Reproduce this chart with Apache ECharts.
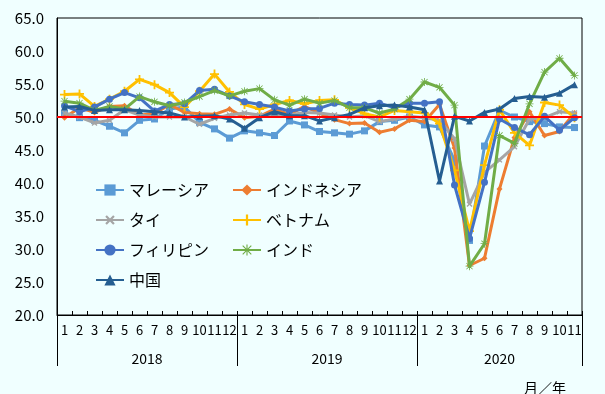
<!DOCTYPE html>
<html><head><meta charset="utf-8">
<script src="https://cdn.jsdelivr.net/npm/echarts@6/dist/echarts.min.js"></script>
<style>html,body{margin:0;padding:0;background:#F0FFFF}#c{width:605px;height:394px}</style>
</head><body><div id="c"></div>
<script>
const months = ['1','2','3','4','5','6','7','8','9','10','11','12',
                '1','2','3','4','5','6','7','8','9','10','11','12',
                '1','2','3','4','5','6','7','8','9','10','11'];
const years = ['2018','2019','2020'];
const yearMonthCounts = [12,12,11];
const yTicks = [20,25,30,35,40,45,50,55,60,65];

const malaysia    = [50.5,49.9,49.5,48.6,47.6,49.5,49.7,51.2,51.5,49.2,48.2,46.8, 47.9,47.6,47.2,49.4,48.8,47.8,47.6,47.4,47.9,49.3,49.5,50.0, 48.8,48.5,43.4,31.3,45.6,51.0,50.0,49.3,49.0,48.5,48.4];
const indonesia   = [49.9,51.4,50.7,51.6,51.7,50.3,50.5,51.9,50.7,50.5,50.4,51.2, 49.9,50.1,51.2,50.4,51.6,50.6,49.6,49.0,49.1,47.7,48.2,49.5, 49.3,51.9,45.3,27.5,28.6,39.1,46.9,50.8,47.2,47.8,50.6];
const thailand    = [50.6,50.0,49.1,49.5,51.1,50.3,50.0,50.0,50.0,48.9,49.8,50.3, 50.6,50.3,50.3,50.3,50.7,50.6,50.3,50.0,50.2,49.3,49.7,50.1, 49.9,49.5,46.7,36.8,41.6,43.5,45.5,49.7,49.9,50.8,50.6];
const vietnam     = [53.4,53.5,51.6,52.7,53.9,55.7,54.9,53.7,51.5,53.9,56.5,53.8, 51.9,51.2,51.9,52.5,52.0,52.5,52.6,51.4,50.5,50.0,51.0,50.8, 50.6,49.0,41.9,32.7,42.7,51.1,47.6,45.7,52.2,51.8,49.9];
const philippines = [51.7,50.8,51.5,52.7,53.7,52.9,50.9,51.9,52.0,54.0,54.2,53.2, 52.3,51.9,51.5,50.9,51.2,51.3,52.1,51.9,51.8,52.1,51.4,52.1, 52.1,52.3,39.7,31.6,40.1,49.7,48.4,47.3,50.1,48.0,49.9];
const india       = [52.4,52.1,51.0,51.6,51.2,53.1,52.3,51.7,52.2,53.1,54.0,53.2, 53.9,54.3,52.6,51.8,52.7,52.1,52.5,51.4,51.4,50.6,51.2,52.7, 55.3,54.5,51.8,27.4,30.8,47.2,46.0,52.0,56.8,58.9,56.3];
const china       = [51.5,51.6,51.0,51.1,51.1,51.0,50.8,50.6,50.0,50.1,50.2,49.7, 48.3,49.9,50.8,50.2,50.2,49.4,49.9,50.4,51.4,51.7,51.8,51.5, 51.1,40.3,50.1,49.4,50.7,51.2,52.8,53.1,53.0,53.6,54.9];
const threshold = 50;

const names = ['マレーシア','インドネシア','タイ','ベトナム','フィリピン','インド','中国'];
const values = [malaysia, indonesia, thailand, vietnam, philippines, india, china];
const colors = ['#5B9BD5','#ED7D31','#A5A5A5','#FFC000','#4472C4','#70AD47','#255E91'];
const plusPath = 'path://M4,0H6V4H10V6H6V10H4V6H0V4H4Z';
const starPath = 'path://M4.5,0H5.5V4.5H10V5.5H5.5V10H4.5V5.5H0V4.5H4.5Z M1.5,0.8L9.2,8.5L8.5,9.2L0.8,1.5Z M8.5,0.8L9.2,1.5L1.5,9.2L0.8,8.5Z';
const symbols = [
  {symbol:'rect', size:7, rotate:0},
  {symbol:'diamond', size:6, rotate:0},
  {symbol:plusPath, size:7, rotate:45},
  {symbol:plusPath, size:9, rotate:0},
  {symbol:'circle', size:7, rotate:0},
  {symbol:starPath, size:8, rotate:0},
  {symbol:'triangle', size:7, rotate:0}
];

// year label centres and boundaries derived from month counts
const yearBounds = [0]; const yearCenters = [];
yearMonthCounts.forEach((n,i)=>{ yearCenters.push(yearBounds[i]+n/2); yearBounds.push(yearBounds[i]+n); });

const FONT = '"Noto Sans CJK JP", sans-serif';
const series = names.map((n,i)=>({
  name:n, type:'line', data: values[i],
  symbol: symbols[i].symbol, symbolSize: symbols[i].size, symbolRotate: symbols[i].rotate,
  lineStyle:{width:3, color:colors[i]},
  itemStyle:{color:colors[i]},
  z: 2 + i
}));
series[series.length-1].markLine = {
  silent:true, symbol:['none','none'], label:{show:false},
  lineStyle:{color:'#FF0000', width:2, type:'solid'},
  data:[{yAxis: threshold}], z: 20
};

const chart = echarts.init(document.getElementById('c'), null, {renderer:'canvas'});
chart.setOption({
  animation:false,
  backgroundColor:'#F0FFFF',
  color: colors,
  title:{text:'月／年', right:34, top:376, textStyle:{fontSize:14, fontWeight:'normal', color:'#000', fontFamily:FONT}},
  grid:{left:57, right:23, top:18, bottom:79, show:true, borderColor:'#000', borderWidth:1, backgroundColor:'transparent'},
  legend:[
    {data:[names[0],names[2],names[4],names[6]], orient:'vertical', left:90, top:177, itemWidth:28, itemHeight:14, itemGap:14,
     textStyle:{fontSize:16, color:'#000', fontFamily:FONT}},
    {data:[names[1],names[3],names[5]], orient:'vertical', left:227, top:177, itemWidth:28, itemHeight:14, itemGap:14,
     textStyle:{fontSize:16, color:'#000', fontFamily:FONT}}
  ],
  xAxis:[
    {type:'category', data:months, position:'bottom', boundaryGap:true,
     axisLine:{onZero:false, lineStyle:{color:'#000', width:1}},
     axisTick:{show:true, inside:true, length:4, interval:0, lineStyle:{color:'#000'}},
     axisLabel:{interval:0, margin:9, fontSize:13, color:'#000', fontFamily:FONT},
     splitLine:{show:false}},
    {type:'value', min:0, max:yearBounds[yearBounds.length-1], position:'bottom',
     axisLine:{show:false, onZero:false},
     axisTick:{show:true, customValues: yearBounds, length:51, lineStyle:{color:'#000'}},
     axisLabel:{customValues: yearCenters, margin:37, fontSize:14, color:'#000', fontFamily:FONT,
       formatter:(v)=>{ const k = yearCenters.indexOf(v); return k>=0 ? years[k] : ''; }},
     splitLine:{show:false}}
  ],
  yAxis:{type:'value', min:yTicks[0], max:yTicks[yTicks.length-1], interval:5,
    axisLine:{show:true, lineStyle:{color:'#000'}}, axisTick:{show:false},
    axisLabel:{margin:13, fontSize:15, color:'#000', fontFamily:FONT, formatter:(v)=>v.toFixed(1)},
    splitLine:{show:false}},
  series: series
});
</script></body></html>
